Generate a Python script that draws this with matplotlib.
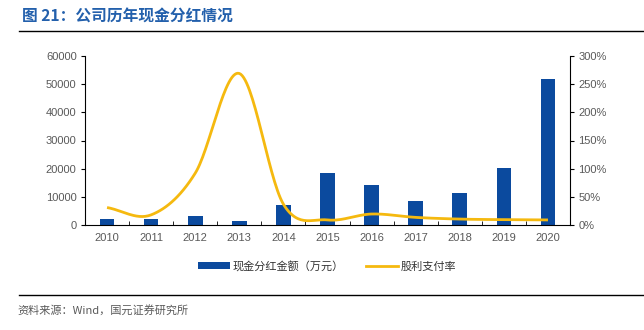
import numpy as np
import matplotlib
matplotlib.use("Agg")
import matplotlib.pyplot as plt
from matplotlib.ticker import FuncFormatter
from matplotlib.lines import Line2D
from matplotlib.patches import Patch

plt.rcParams['font.family'] = ['Liberation Sans', 'Noto Sans CJK SC', 'DejaVu Sans']

years = ['2010', '2011', '2012', '2013', '2014', '2015', '2016', '2017', '2018', '2019', '2020']
dividend = [2000, 2000, 3300, 1400, 7200, 18600, 14200, 8500, 11200, 20200, 51700]
payout = [31, 18, 92, 269, 37, 9, 19.5, 13.5, 10.5, 9.5, 9]

bar_label = '现金分红金额（万元）'
line_label = '股利支付率'
title = '图 21：公司历年现金分红情况'
source = '资料来源：Wind，国元证券研究所'

BLUE = '#0B4A9E'
GOLD = '#F5B90F'
GRAY = '#595959'


def catmull_rom(x, y, n=30):
    x = np.asarray(x, float)
    y = np.asarray(y, float)
    px = np.concatenate([[2 * x[0] - x[1]], x, [2 * x[-1] - x[-2]]])
    py = np.concatenate([[2 * y[0] - y[1]], y, [2 * y[-1] - y[-2]]])
    xs, ys = [], []
    t = np.linspace(0, 1, n, endpoint=False)
    for i in range(1, len(px) - 2):
        p0, p1, p2, p3 = (np.array([px[j], py[j]]) for j in range(i - 1, i + 3))
        c1 = p1 + (p2 - p0) / 6
        c2 = p2 - (p3 - p1) / 6
        b = ((1 - t) ** 3)[:, None] * p1 + (3 * (1 - t) ** 2 * t)[:, None] * c1 \
            + (3 * (1 - t) * t ** 2)[:, None] * c2 + (t ** 3)[:, None] * p2
        xs.append(b[:, 0]); ys.append(b[:, 1])
    xs.append([x[-1]]); ys.append([y[-1]])
    return np.concatenate(xs), np.concatenate(ys)


fig = plt.figure(figsize=(6.44, 3.30), dpi=100)
ax = fig.add_axes([85 / 644, 1 - 225 / 330, (570 - 85) / 644, (225 - 56) / 330])
ax2 = ax.twinx()

x = np.arange(len(years))
ax.bar(x, dividend, width=0.33, color=BLUE, zorder=2)
ax.set_xlim(-0.5, len(years) - 0.5)
ax.set_ylim(0, 60000)
ax.set_yticks(np.arange(0, 60001, 10000))
ax.set_xticks(x)
ax.set_xticklabels(years)
ax.set_xticks(np.arange(-0.5, len(years), 1), minor=True)
ax.tick_params(axis='x', which='major', length=0, pad=6, labelsize=8, labelcolor=GRAY)
ax.tick_params(axis='x', which='minor', length=3, direction='in', color='black')
ax.tick_params(axis='y', length=3, direction='out', labelsize=8, labelcolor=GRAY, pad=3)

sx, sy = catmull_rom(x, payout)
ax2.plot(sx, sy, color=GOLD, lw=2.0, solid_capstyle='butt', zorder=3)
ax2.set_ylim(0, 300)
ax2.set_yticks(np.arange(0, 301, 50))
ax2.yaxis.set_major_formatter(FuncFormatter(lambda v, p: f'{int(v)}%'))
ax2.tick_params(axis='y', length=3, direction='out', labelsize=8, labelcolor=GRAY, pad=3)

for a in (ax, ax2):
    a.spines['top'].set_visible(False)
    for s in ('left', 'right', 'bottom'):
        a.spines[s].set_color('black')
        a.spines[s].set_linewidth(0.8)
ax.spines['right'].set_visible(False)
ax2.spines['left'].set_visible(False)
ax2.spines['bottom'].set_visible(False)

handles = [Patch(facecolor=BLUE, edgecolor='none'), Line2D([0], [0], color=GOLD, lw=2)]
fig.legend(handles, [bar_label, line_label], loc='center', bbox_to_anchor=(327 / 644, 1 - 266 / 330),
           ncol=2, frameon=False, handlelength=2.9, handleheight=0.55,
           columnspacing=2.0, handletextpad=0.2, prop={'family': ['Noto Sans CJK SC'], 'size': 8},
           labelcolor='#333333')

fig.text(22 / 644, 1 - 17 / 330, title, fontsize=11.3, fontweight='bold', color='#2360AC',
         va='center', ha='left', family=['Noto Sans CJK SC', 'DejaVu Sans'])
fig.add_artist(Line2D([19 / 644, 1.0], [1 - 30.5 / 330] * 2, color='black', lw=1.0))
fig.add_artist(Line2D([19 / 644, 1.0], [1 - 295 / 330] * 2, color='black', lw=1.0))
fig.text(17 / 644, 1 - 310 / 330, source, fontsize=8, color=GRAY, va='center', ha='left',
         family=['Noto Sans CJK SC', 'DejaVu Sans'])

fig.savefig('out.png', dpi=100)
